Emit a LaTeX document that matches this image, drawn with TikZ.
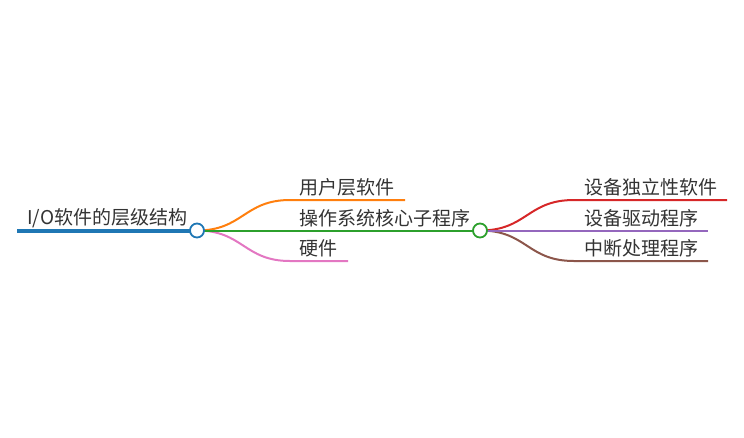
\documentclass[tikz,border=0pt]{standalone}
\usepackage{fontspec}
\setmainfont{Noto Sans CJK SC}
\usepackage{xcolor}
\usetikzlibrary{positioning}
\definecolor{Blue}{HTML}{1F77B4}
\definecolor{Orange}{HTML}{FF7F0E}
\definecolor{Green}{HTML}{2CA02C}
\definecolor{Red}{HTML}{D62728}
\definecolor{Purple}{HTML}{9467BD}
\definecolor{Brown}{HTML}{8C564B}
\definecolor{Pink}{HTML}{E377C2}
\definecolor{Ink}{HTML}{333333}

\begin{document}
\begin{tikzpicture}[x=1pt,y=-1pt,
  tag/.style={anchor=base west,inner sep=0pt,text=Ink,font=\fontsize{19}{23}\selectfont},
  dot/.style={circle,draw,fill=white,line width=1.8pt,minimum size=14pt,inner sep=0pt},
  branch/.style={line width=2pt}]
\useasboundingbox (0,0) rectangle (744,437);

% Root branch.
\coordinate (rootstart) at (17,230.5);
\node[dot,draw=none,fill=none] (rootdot) at (197,230.5) {};
\node[dot,draw=none,fill=none] (coredot) at (480,230.5) {};
\draw[line width=4pt,Blue] (rootstart)--(rootdot.center);
\node[tag] (roottext) at (27,224.5) {I/O软件的层级结构};

% First level.
\coordinate (userbend) at (290,200);
\coordinate (usertip) at (405,200);
\coordinate (hardbend) at (290,261);
\coordinate (hardtip) at (348,261);
\draw[branch,Orange] (rootdot.center) .. controls +(46,0) and +(-46,0) .. (userbend)--(usertip);
\draw[branch,Pink] (rootdot.center) .. controls +(46,0) and +(-46,0) .. (hardbend)--(hardtip);
\draw[branch,Green] (rootdot.center)--(coredot.center);
\node[tag] (usertext) at (299,194.5) {用户层软件};
\node[tag] (coretext) at (299,225) {操作系统核心子程序};
\node[tag] (hardtext) at (299,255.5) {硬件};

% Second level.
\coordinate (indepbend) at (574,200);
\coordinate (indeptip) at (727,200);
\coordinate (drivertip) at (708,230.5);
\coordinate (irqbend) at (574,261);
\coordinate (irqtip) at (708,261);
\draw[branch,Red] (coredot.center) .. controls +(47,0) and +(-47,0) .. (indepbend)--(indeptip);
\draw[branch,Brown] (coredot.center) .. controls +(47,0) and +(-47,0) .. (irqbend)--(irqtip);
\draw[branch,Purple] (coredot.center)--(drivertip);
\node[tag] (indeptext) at (584,194.5) {设备独立性软件};
\node[tag] (drivertext) at (584,225) {设备驱动程序};
\node[tag] (irqtext) at (584,255.5) {中断处理程序};

\node[dot,draw=Blue] at (rootdot) {};
\node[dot,draw=Green] at (coredot) {};
\end{tikzpicture}
\end{document}
